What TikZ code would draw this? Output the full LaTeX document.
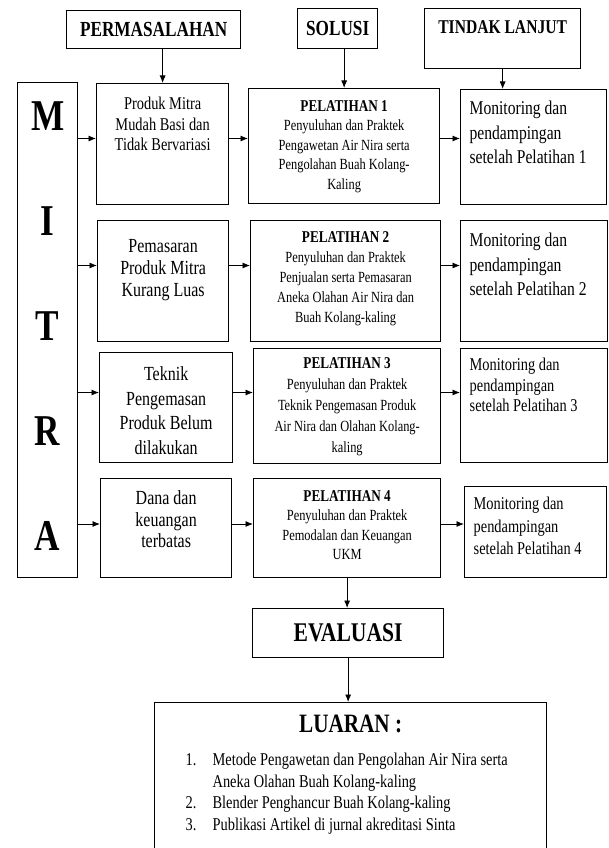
\documentclass[tikz,border=0pt]{standalone}
\usepackage{fontspec}
\setmainfont{Liberation Serif}[FakeStretch=0.8]
\usetikzlibrary{arrows.meta}
\newcommand{\inbox}[3]{\parbox[c][#1][t]{#2}{#3}}
\newcommand{\setfs}[2]{\fontsize{#1}{#2}\selectfont}

\begin{document}
\begin{tikzpicture}[x=1pt, y=-1pt,
  box/.style={draw, line width=1.3pt, inner sep=0pt, anchor=north west},
  follow/.style={box, inner xsep=9pt},
  >={Latex[length=7.5pt,width=6pt]}]
\useasboundingbox (0,0) rectangle (608,848);
\clip (0,0) rectangle (608,848);

% column heads
\node[box, minimum width=174pt, minimum height=38pt, font=\bfseries\setfs{21.5}{24}] (perm) at (66,10) {PERMASALAHAN};
\node[box, minimum width=80pt, minimum height=40pt, font=\bfseries\setfs{21.5}{24}] (sol) at (297,8) {SOLUSI};
\node[box] (tl) at (424,8) {\inbox{60pt}{156pt}{\centering\bfseries\setfs{19.5}{22}\rule{0pt}{25pt}TINDAK LANJUT}};

% mitra column
\node[box] (mitra) at (17,82) {\inbox{495pt}{60pt}{\centering\bfseries\setfs{44}{105}\rule{0pt}{48pt}M\\I\\T\\R\\A}};

% row 1
\node[box] (p1) at (96,83) {\inbox{121pt}{132pt}{\centering\setfs{18}{20.5}\rule{0pt}{26pt}Produk Mitra\\Mudah Basi dan\\Tidak Bervariasi}};
\node[box] (s1) at (248,88) {\inbox{115pt}{191pt}{\centering\setfs{15.5}{19.5}\rule{0pt}{22.5pt}\textbf{\setfs{16.5}{19.5}PELATIHAN 1}\\Penyuluhan dan Praktek\\Pengawetan Air Nira serta\\Pengolahan Buah Kolang-\\Kaling}};
\node[follow] (f1) at (460,89) {\inbox{115pt}{128pt}{\raggedright\setfs{19.5}{24.5}\rule{0pt}{25pt}Monitoring dan\\pendampingan\\setelah Pelatihan 1}};

% row 2
\node[box] (p2) at (97,220) {\inbox{121pt}{131pt}{\centering\setfs{20}{22}\rule{0pt}{32pt}Pemasaran\\Produk Mitra\\Kurang Luas}};
\node[box] (s2) at (250,220) {\inbox{121pt}{190pt}{\centering\setfs{15.5}{20}\rule{0pt}{22pt}\textbf{\setfs{16.5}{20}PELATIHAN 2}\\Penyuluhan dan Praktek\\Penjualan serta Pemasaran\\Aneka Olahan Air Nira dan\\Buah Kolang-kaling}};
\node[follow] (f2) at (460,220) {\inbox{121pt}{129pt}{\raggedright\setfs{19.5}{24.5}\rule{0pt}{26pt}Monitoring dan\\pendampingan\\setelah Pelatihan 2}};

% row 3
\node[box] (p3) at (99,352) {\inbox{110pt}{133pt}{\centering\setfs{20}{24.5}\rule{0pt}{28pt}Teknik\\Pengemasan\\Produk Belum\\dilakukan}};
\node[box] (s3) at (253,348) {\inbox{115pt}{187pt}{\centering\setfs{15.5}{21}\rule{0pt}{19.5pt}\textbf{\setfs{16.5}{21}PELATIHAN 3}\\Penyuluhan dan Praktek\\Teknik Pengemasan Produk\\Air Nira dan Olahan Kolang-\\kaling}};
\node[follow] (f3) at (460,348) {\inbox{114pt}{129pt}{\raggedright\setfs{18}{20.5}\rule{0pt}{22pt}Monitoring dan\\pendampingan\\setelah Pelatihan 3}};

% row 4
\node[box] (p4) at (100,478) {\inbox{99pt}{131pt}{\centering\setfs{20}{21.5}\rule{0pt}{26pt}Dana dan\\keuangan\\terbatas}};
\node[box] (s4) at (253,478) {\inbox{99pt}{187pt}{\centering\setfs{15.5}{19.5}\rule{0pt}{22.5pt}\textbf{\setfs{16.5}{19.5}PELATIHAN 4}\\Penyuluhan dan Praktek\\Pemodalan dan Keuangan\\UKM}};
\node[follow] (f4) at (464,486) {\inbox{91pt}{124pt}{\raggedright\setfs{18}{22.5}\rule{0pt}{23pt}Monitoring dan\\pendampingan\\setelah Pelatihan 4}};

% evaluasi and luaran
\node[box, minimum width=191pt, minimum height=49pt, font=\bfseries\setfs{27}{30}] (eval) at (252,608) {EVALUASI};
\node[box] (luaran) at (154,702) {\inbox{150pt}{392pt}{%
  {\centering\bfseries\setfs{26.5}{30}\rule{0pt}{30pt}LUARAN :\par}
  \vspace{11pt}
  {\raggedright\setfs{18}{21.7}\leftskip=31pt
  \hangindent=27pt\hangafter=1\makebox[27pt][l]{1.}Metode Pengawetan dan Pengolahan Air Nira serta\newline Aneka Olahan Buah Kolang-kaling\par
  \makebox[27pt][l]{2.}Blender Penghancur Buah Kolang-kaling\par
  \makebox[27pt][l]{3.}Publikasi Artikel di jurnal akreditasi Sinta\par}}};

% row levels of the arrows
\coordinate (r1) at (0,138.5);
\coordinate (r2) at (0,265.5);
\coordinate (r3) at (0,392.5);
\coordinate (r4) at (0,524);

\draw[->, thick] (perm.south -| p1.north) -- (p1.north);
\draw[->, thick] (sol.south -| s1.north) -- (s1.north);
\draw[->, thick] (tl.south) -- (tl.south |- f1.north);

\draw[->, thick] (mitra.east |- r1) -- (p1.west |- r1);
\draw[->, thick] (p1.east |- r1) -- (s1.west |- r1);
\draw[->, thick] (s1.east |- r1) -- (f1.west |- r1);
\draw[->, thick] (mitra.east |- r2) -- (p2.west |- r2);
\draw[->, thick] (p2.east |- r2) -- (s2.west |- r2);
\draw[->, thick] (s2.east |- r2) -- (f2.west |- r2);
\draw[->, thick] (mitra.east |- r3) -- (p3.west |- r3);
\draw[->, thick] (p3.east |- r3) -- (s3.west |- r3);
\draw[->, thick] (s3.east |- r3) -- (f3.west |- r3);
\draw[->, thick] (mitra.east |- r4) -- (p4.west |- r4);
\draw[->, thick] (p4.east |- r4) -- (s4.west |- r4);
\draw[->, thick] (s4.east |- r4) -- (f4.west |- r4);

\draw[->, thick] (s4.south) -- (s4.south |- eval.north);
\draw[->, thick] (eval.south) -- (eval.south |- luaran.north);
\end{tikzpicture}
\end{document}
